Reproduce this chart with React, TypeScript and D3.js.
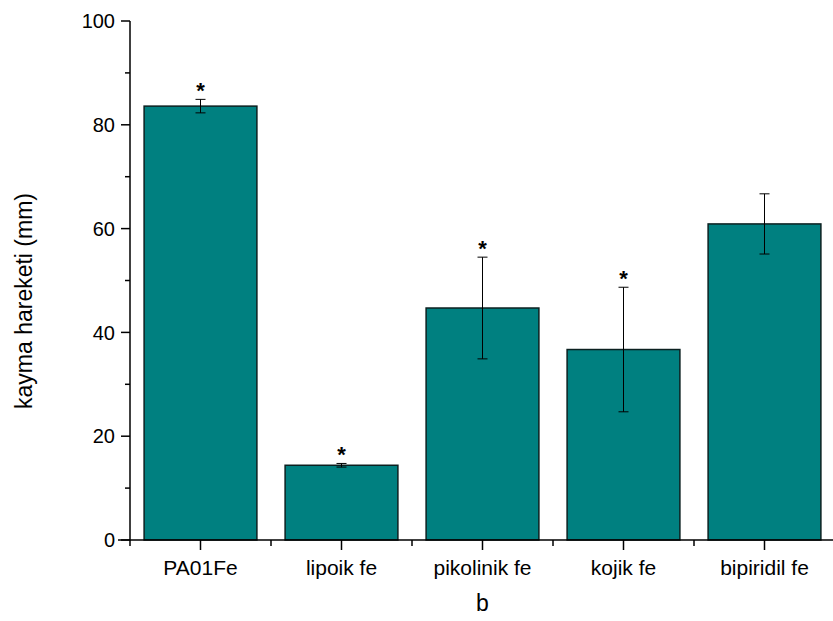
import React, { useEffect, useRef } from 'react';
import * as d3 from 'd3';

const categories = ['PA01Fe', 'lipoik fe', 'pikolinik fe', 'kojik fe', 'bipiridil fe'];
const means = [83.6, 14.4, 44.7, 36.7, 60.9];
const errors = [1.3, 0.35, 9.8, 12.0, 5.8];
const significant = [true, true, true, true, false];
const yTicks = [0, 20, 40, 60, 80, 100];
const yMinorTicks = [10, 30, 50, 70, 90];

const App = () => {
  const svgRef = useRef(null);

  useEffect(() => {
    const width = 833;
    const height = 621;
    const margin = { top: 21, right: -2, bottom: 81, left: 130 };
    const w = width - margin.left - margin.right;
    const h = height - margin.top - margin.bottom;

    const svg = d3.select(svgRef.current);
    svg.selectAll('*').remove();

    const g = svg.append('g').attr('transform', `translate(${margin.left}, ${margin.top})`);

    const x = d3.scaleBand().domain(categories).range([0, w]).paddingInner(0.2).paddingOuter(0.1);
    const xStep = d3.scaleBand().domain(categories).range([0, w]); // full category slots
    const y = d3.scaleLinear().domain([0, 100]).range([h, 0]);

    const font = 'Arial, "Liberation Sans", sans-serif';

    // bars
    g.selectAll('rect.bar')
      .data(categories)
      .enter()
      .append('rect')
      .attr('class', 'bar')
      .attr('x', d => x(d))
      .attr('width', x.bandwidth())
      .attr('y', (d, i) => y(means[i]))
      .attr('height', (d, i) => h - y(means[i]))
      .style('fill', '#008080')
      .style('stroke', '#0b2020')
      .style('stroke-width', 1.5);

    // error bars
    const cx = d => x(d) + x.bandwidth() / 2;
    const eb = g.selectAll('g.err').data(categories).enter().append('g').attr('class', 'err');
    eb.append('line')
      .attr('x1', cx).attr('x2', cx)
      .attr('y1', (d, i) => y(means[i] + errors[i]))
      .attr('y2', (d, i) => y(means[i] - errors[i]))
      .style('stroke', '#000').style('stroke-width', 1);
    [1, -1].forEach(s => {
      eb.append('line')
        .attr('x1', d => cx(d) - 5).attr('x2', d => cx(d) + 5)
        .attr('y1', (d, i) => y(means[i] + s * errors[i]))
        .attr('y2', (d, i) => y(means[i] + s * errors[i]))
        .style('stroke', '#000').style('stroke-width', 1);
    });

    // significance stars
    g.selectAll('text.star')
      .data(categories.filter((d, i) => significant[i]))
      .enter()
      .append('text')
      .attr('class', 'star')
      .attr('x', cx)
      .attr('y', d => { const i = categories.indexOf(d); return y(means[i] + errors[i]) - 1; })
      .attr('text-anchor', 'middle')
      .style('font-family', font)
      .style('font-size', '22px')
      .style('font-weight', 'bold')
      .text('*');

    // y axis
    const yAxis = g.append('g');
    yAxis.append('line').attr('x1', 0).attr('x2', 0).attr('y1', y(100)).attr('y2', h + 0.5)
      .style('stroke', '#000').style('stroke-width', 1.5);
    yAxis.selectAll('line.major').data(yTicks).enter().append('line')
      .attr('x1', -9).attr('x2', 0).attr('y1', d => y(d)).attr('y2', d => y(d))
      .style('stroke', '#000').style('stroke-width', 1.5);
    yAxis.selectAll('line.minor').data(yMinorTicks).enter().append('line')
      .attr('x1', -5).attr('x2', 0).attr('y1', d => y(d)).attr('y2', d => y(d))
      .style('stroke', '#000').style('stroke-width', 1.5);
    yAxis.selectAll('text').data(yTicks).enter().append('text')
      .attr('x', -15).attr('y', d => y(d)).attr('dy', '0.36em')
      .attr('text-anchor', 'end')
      .style('font-family', font).style('font-size', '20px')
      .text(d => d);

    // x axis
    const xAxis = g.append('g').attr('transform', `translate(0, ${h})`);
    xAxis.append('line').attr('x1', -12).attr('x2', w).attr('y1', 0).attr('y2', 0)
      .style('stroke', '#000').style('stroke-width', 1.5);
    xAxis.selectAll('line.major').data(categories).enter().append('line')
      .attr('x1', cx).attr('x2', cx).attr('y1', 0).attr('y2', 10)
      .style('stroke', '#000').style('stroke-width', 1.5);
    xAxis.selectAll('line.minor').data(categories).enter().append('line')
      .attr('x1', d => xStep(d)).attr('x2', d => xStep(d)).attr('y1', 0).attr('y2', 6)
      .style('stroke', '#000').style('stroke-width', 1.5);
    xAxis.selectAll('text').data(categories).enter().append('text')
      .attr('x', cx).attr('y', 35)
      .attr('text-anchor', 'middle')
      .style('font-family', font).style('font-size', '21px')
      .text(d => d);

    // axis titles
    svg.append('text')
      .attr('x', margin.left + w / 2).attr('y', 611)
      .attr('text-anchor', 'middle')
      .style('font-family', font).style('font-size', '23px')
      .text('b');

    svg.append('text')
      .attr('transform', `translate(32, ${301}) rotate(-90)`)
      .attr('text-anchor', 'middle')
      .style('font-family', font).style('font-size', '23px')
      .text('kayma hareketi (mm)');
  }, []);

  return (
    <svg
      ref={svgRef}
      width={833}
      height={621}
      style={{ position: 'absolute', left: 0, top: 0, background: '#fff', display: 'block' }}
    ></svg>
  );
};

export default App;
